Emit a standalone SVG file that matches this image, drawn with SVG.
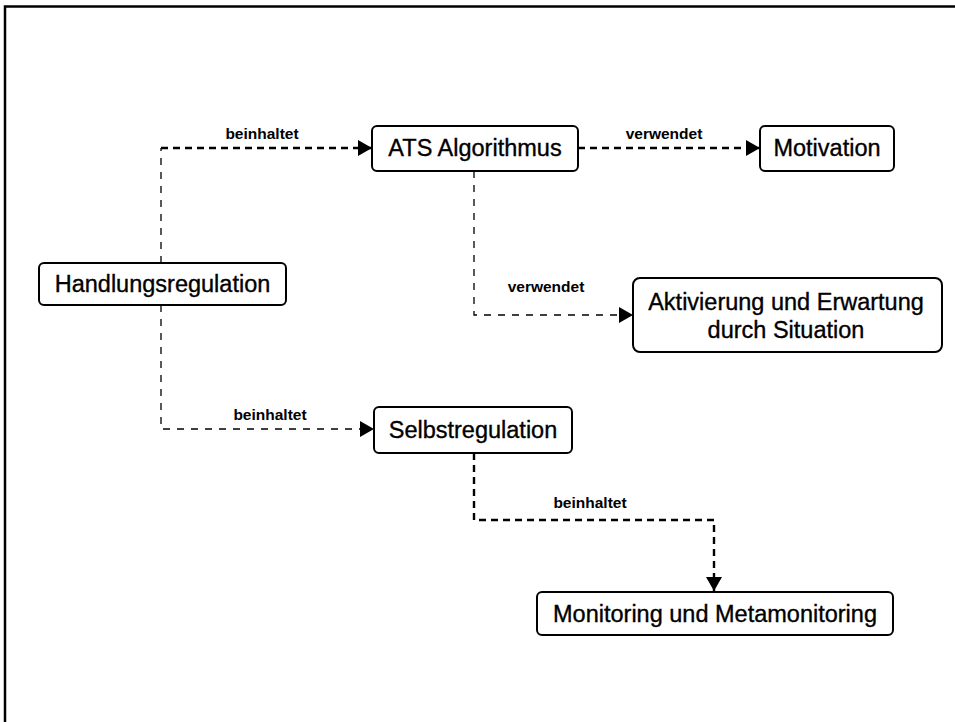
<svg xmlns="http://www.w3.org/2000/svg" width="955" height="722" viewBox="0 0 955 722">
  <style>
    .box { fill: #ffffff; stroke: #000000; stroke-width: 2; }
    .node-text { font-family: "Liberation Sans", Arial, sans-serif; font-size: 23.5px; fill: #000000; stroke: #000000; stroke-width: 0.35; text-anchor: middle; }
    .label { font-family: "Liberation Sans", Arial, sans-serif; font-size: 15.5px; font-weight: bold; fill: #000000; text-anchor: middle; }
    .thick { fill: none; stroke: #000000; stroke-width: 2.4; stroke-dasharray: 7 5; }
    .thin { fill: none; stroke: #000000; stroke-width: 1.3; stroke-dasharray: 7 7; }
  </style>
  <defs>
    <marker id="arrow" viewBox="0 0 14 16" refX="14" refY="8" markerWidth="14" markerHeight="16" markerUnits="userSpaceOnUse" orient="auto">
      <path d="M0,0 L14,8 L0,16 z" fill="#000000"/>
    </marker>
  </defs>

  <rect x="0" y="0" width="955" height="722" fill="#ffffff"/>
  <!-- outer frame (only top and left edges are visible) -->
  <path d="M5,722 V6.5 H955" fill="none" stroke="#000000" stroke-width="2.5"/>

  <g id="connectors">
    <path class="thin" d="M161,263 V148"/>
    <path class="thick" d="M161,148 H372" marker-end="url(#arrow)"/>
    <path class="thick" d="M578,148 H760" marker-end="url(#arrow)"/>
    <path class="thin" d="M474,171 V315 H633" marker-end="url(#arrow)"/>
    <path class="thin" d="M161,305 V429 H374" marker-end="url(#arrow)"/>
    <path class="thick" d="M474,453 V520 H714 V591" marker-end="url(#arrow)"/>
    <text class="label" x="262" y="139">beinhaltet</text>
    <text class="label" x="664" y="139">verwendet</text>
    <text class="label" x="546" y="292">verwendet</text>
    <text class="label" x="270" y="420">beinhaltet</text>
    <text class="label" x="590" y="508">beinhaltet</text>
  </g>

  <g id="ats-algorithmus">
    <rect class="box" x="372" y="126" width="206" height="45" rx="5"/>
    <text class="node-text" x="475" y="156">ATS Algorithmus</text>
  </g>
  <g id="motivation">
    <rect class="box" x="760" y="126" width="134" height="45" rx="5"/>
    <text class="node-text" x="827" y="156">Motivation</text>
  </g>
  <g id="handlungsregulation">
    <rect class="box" x="39" y="263" width="247" height="42" rx="5"/>
    <text class="node-text" x="162.5" y="292">Handlungsregulation</text>
  </g>
  <g id="aktivierung">
    <rect class="box" x="633" y="278" width="309" height="74" rx="7"/>
    <text class="node-text" x="786" y="310">Aktivierung und Erwartung</text>
    <text class="node-text" x="786" y="338">durch Situation</text>
  </g>
  <g id="selbstregulation">
    <rect class="box" x="374" y="407" width="198" height="46" rx="5"/>
    <text class="node-text" x="473" y="438">Selbstregulation</text>
  </g>
  <g id="monitoring">
    <rect class="box" x="537" y="592" width="356" height="43" rx="5"/>
    <text class="node-text" x="715" y="622">Monitoring und Metamonitoring</text>
  </g>
</svg>
